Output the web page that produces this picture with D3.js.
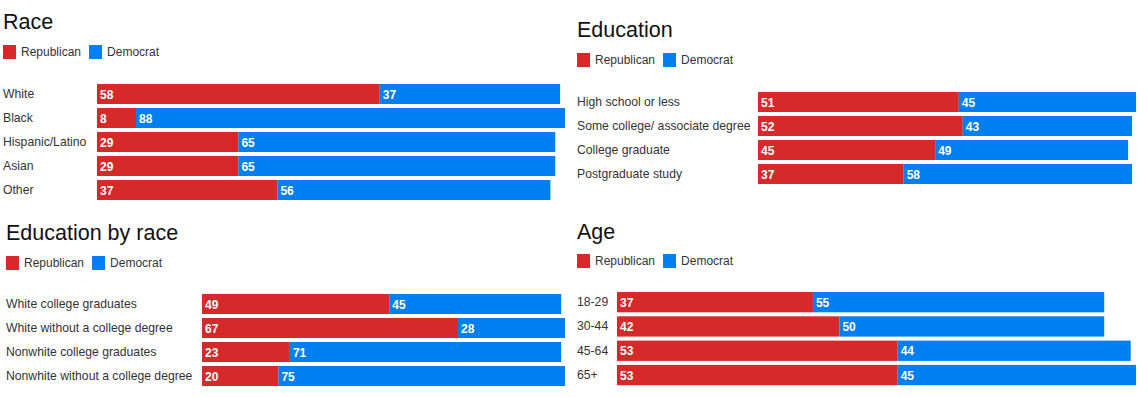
<!DOCTYPE html>
<html><head><meta charset="utf-8">
<script src="https://cdn.jsdelivr.net/npm/d3@7"></script>
<style>
html,body{margin:0;padding:0;background:#fff;}
svg{display:block;font-family:"Liberation Sans",Arial,Helvetica,sans-serif;}
</style></head>
<body>
<svg id="chart" width="1140" height="397"></svg>
<script>
const seriesNames = ["Republican", "Democrat"];
const seriesColors = ["#d62a2a", "#007ff0"];

const raceTitle = "Race";
const raceCategories = ["White", "Black", "Hispanic/Latino", "Asian", "Other"];
const raceRep = [58, 8, 29, 29, 37];
const raceDem = [37, 88, 65, 65, 56];

const eduTitle = "Education";
const eduCategories = ["High school or less", "Some college/ associate degree", "College graduate", "Postgraduate study"];
const eduRep = [51, 52, 45, 37];
const eduDem = [45, 43, 49, 58];

const edRaceTitle = "Education by race";
const edRaceCategories = ["White college graduates", "White without a college degree", "Nonwhite college graduates", "Nonwhite without a college degree"];
const edRaceRep = [49, 67, 23, 20];
const edRaceDem = [45, 28, 71, 75];

const ageTitle = "Age";
const ageCategories = ["18-29", "30-44", "45-64", "65+"];
const ageRep = [37, 42, 53, 53];
const ageDem = [55, 50, 44, 45];

const panels = [
  {title: raceTitle, cats: raceCategories, rep: raceRep, dem: raceDem,
   x0: 3, titleY: 29, legendY: 52, barX: 97, barRight: 565, rowTop: 84, step: 24},
  {title: eduTitle, cats: eduCategories, rep: eduRep, dem: eduDem,
   x0: 577, titleY: 37, legendY: 60, barX: 758, barRight: 1136, rowTop: 92, step: 24},
  {title: edRaceTitle, cats: edRaceCategories, rep: edRaceRep, dem: edRaceDem,
   x0: 6, titleY: 240, legendY: 263, barX: 202, barRight: 565, rowTop: 294, step: 24},
  {title: ageTitle, cats: ageCategories, rep: ageRep, dem: ageDem,
   x0: 577, titleY: 239, legendY: 261, barX: 617, barRight: 1136, rowTop: 292, step: 24.3}
];

const svg = d3.select("#chart");

panels.forEach(p => {
  const g = svg.append("g");
  const rows = p.cats.map((c, i) => ({cat: c, rep: p.rep[i], dem: p.dem[i]}));
  const maxTotal = d3.max(rows, d => d.rep + d.dem);
  const x = d3.scaleLinear().domain([0, maxTotal]).range([p.barX, p.barRight]);
  const n = p.cats.length;
  const pad = 4 / p.step;
  const y = d3.scaleBand().domain(p.cats)
    .range([p.rowTop, p.rowTop + p.step * (n - pad)]).paddingInner(pad).paddingOuter(0);

  g.append("text").attr("x", p.x0).attr("y", p.titleY)
    .attr("font-size", 21.5).attr("fill", "#111").text(p.title);

  // legend
  const lg = g.append("g");
  let lx = p.x0;
  seriesNames.forEach((s, i) => {
    lg.append("rect").attr("x", lx).attr("y", p.legendY - 7).attr("width", 13).attr("height", 14)
      .attr("fill", seriesColors[i]);
    const t = lg.append("text").attr("x", lx + 18).attr("y", p.legendY + 4)
      .attr("font-size", 12).attr("fill", "#333").text(s);
    lx += 18 + t.node().getComputedTextLength() + 8;
  });

  // category labels
  g.selectAll("text.cat").data(rows).enter().append("text")
    .attr("class", "cat")
    .attr("x", p.x0)
    .attr("y", d => y(d.cat) + y.bandwidth() / 2 + 4)
    .attr("font-size", 12.2).attr("fill", "#333")
    .text(d => d.cat);

  const stack = d3.stack().keys(["rep", "dem"])(rows);
  stack.forEach((layer, li) => {
    g.selectAll("rect.s" + li).data(layer).enter().append("rect")
      .attr("class", "s" + li)
      .attr("x", d => x(d[0]))
      .attr("y", d => y(d.data.cat))
      .attr("width", d => x(d[1]) - x(d[0]))
      .attr("height", y.bandwidth())
      .attr("fill", seriesColors[li]);
    g.selectAll("text.v" + li).data(layer).enter().append("text")
      .attr("class", "v" + li)
      .attr("x", d => x(d[0]) + 3)
      .attr("y", d => y(d.data.cat) + y.bandwidth() / 2 + 4.5)
      .attr("font-size", 12).attr("font-weight", "bold").attr("fill", "#fff")
      .text(d => d[1] - d[0]);
  });
});
</script>
</body></html>
